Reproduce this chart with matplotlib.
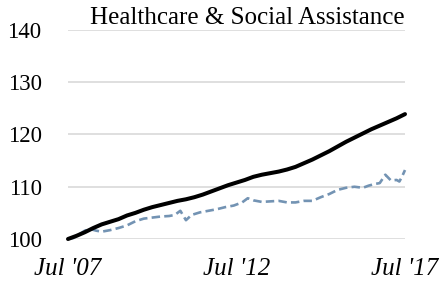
import matplotlib
matplotlib.use("Agg")
import matplotlib.pyplot as plt

title = "Healthcare & Social Assistance"
x_tick_pos = [0, 60, 120]
x_tick_labels = ["Jul '07", "Jul '12", "Jul '17"]
y_ticks = [100, 110, 120, 130, 140]

# months since Jul 2007
black_months = list(range(0, 121, 3))
black_values = [100.0, 100.6, 101.3, 102.1, 102.8, 103.3, 103.8, 104.5, 105.0, 105.6,
                106.1, 106.5, 106.9, 107.3, 107.6, 108.0, 108.5, 109.1, 109.7, 110.3,
                110.8, 111.3, 111.9, 112.3, 112.6, 112.9, 113.3, 113.8, 114.5, 115.2,
                116.0, 116.8, 117.7, 118.6, 119.4, 120.2, 121.0, 121.7, 122.4, 123.1,
                123.9]

blue_months = [0, 2, 4, 6, 8, 10, 12, 15, 18, 21, 24, 27, 30, 33, 36, 38, 40, 42, 44, 47,
               50, 53, 56, 59, 62, 64, 66, 69, 72, 75, 78, 81, 84, 87, 90, 93, 96, 99,
               102, 105, 107, 109, 111, 113, 115, 117, 118, 119, 120]
blue_values = [100.0, 100.2, 100.9, 101.6, 101.9, 101.6, 101.4, 101.7, 102.1, 102.6,
               103.4, 103.9, 104.1, 104.3, 104.4, 104.6, 105.4, 103.6, 104.6, 105.1,
               105.4, 105.7, 106.1, 106.4, 107.0, 107.8, 107.4, 107.1, 107.2, 107.3,
               107.0, 107.0, 107.3, 107.3, 108.0, 108.6, 109.4, 109.8, 110.0, 109.8,
               110.2, 110.5, 110.7, 112.3, 111.2, 111.3, 111.0, 112.0, 113.2]

serif = ["Liberation Serif", "DejaVu Serif"]

fig = plt.figure(figsize=(4.43, 2.97), dpi=100)
ax = fig.add_axes([68/443, 1-239/297, (405-68)/443, (239-30)/297])

ax.plot(blue_months, blue_values, color="#7393b3", lw=1.9, dashes=(3.2, 1.6),
        clip_on=False, zorder=3)
ax.plot(black_months, black_values, color="black", lw=2.9, clip_on=False, zorder=4,
        solid_capstyle="round")

ax.set_xlim(0, 120)
ax.set_ylim(100, 140)
ax.set_yticks(y_ticks)
ax.set_yticklabels([str(v) for v in y_ticks], fontfamily=serif, fontsize=16.5)
ax.set_xticks(x_tick_pos)
ax.set_xticklabels(x_tick_labels, fontfamily=serif, fontsize=18, fontstyle="italic")
ax.tick_params(axis="both", length=0)
ax.tick_params(axis="y", pad=19)
ax.tick_params(axis="x", pad=14)
ax.grid(axis="y", color="#d9d9d9", lw=1.2)
ax.set_axisbelow(True)
for s in ax.spines.values():
    s.set_visible(False)

ax.set_title(title, loc="right", fontfamily=serif, fontsize=18, pad=4)

fig.savefig("out.png", dpi=100)
